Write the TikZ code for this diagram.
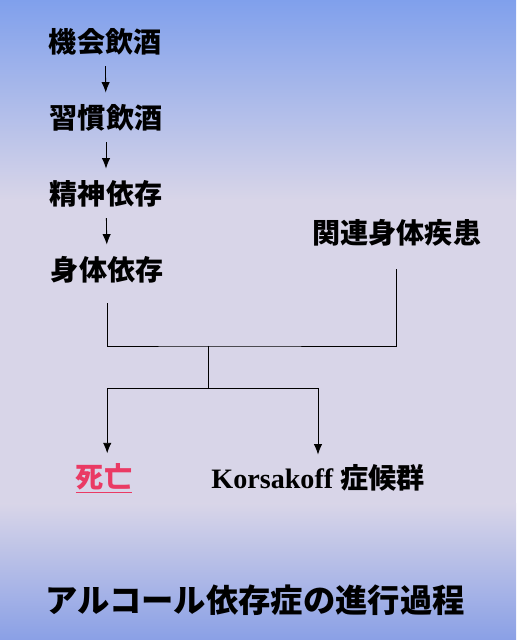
\documentclass[tikz,border=0pt]{standalone}
\usepackage{fontspec}
\setmainfont{Liberation Serif}
\newfontfamily\jp{Noto Sans CJK JP}
\usetikzlibrary{arrows.meta}
\definecolor{slidetop}{RGB}{128,160,236}
\definecolor{slidemid}{RGB}{216,213,232}
\definecolor{slidebot}{RGB}{138,160,230}
\definecolor{deathred}{RGB}{234,58,100}
\tikzset{%
    stage/.style={inner sep=0pt,outer sep=0pt,font=\jp\bfseries\fontsize{20}{24}\selectfont},
    flow/.style={->,>={Latex[length=2.6mm,width=2.1mm]},line width=0.6pt},
    branch/.style={line width=0.6pt},
}

\begin{document}
\begin{tikzpicture}
            \useasboundingbox (0,0) rectangle (12.9,16);
            %ozadje
            \shade[top color=slidetop, bottom color=slidemid] (0,11) rectangle (12.9,16);
            \fill[slidemid] (0,3.4) rectangle (12.9,11);
            \shade[top color=slidemid, bottom color=slidebot] (0,0) rectangle (12.9,3.4);

            %stopnje
            \node[stage] (occasional) at (2.63, 14.95) {機会飲酒};
            \node[stage] (habitual) at (2.65, 13.05) {習慣飲酒};
            \node[stage] (mental) at (2.65, 11.15) {精神依存};
            \node[stage] (physical) at (2.68, 9.25) {身体依存};
            \node[stage] (related) at (9.92, 10.18) {関連身体疾患};

            %izid
            \node[stage, text=deathred] (death) at (2.6, 4.05) {\underline{死亡}};
            \node[stage] (korsakoff) at (7.95, 4.05) {\rmfamily\bfseries Korsakoff \jp 症候群};
            \node[stage, font=\jp\bfseries\fontsize{23}{28}\selectfont] (title) at (6.38, 1.0) {アルコール依存症の進行過程};

            %puščice
            \draw[flow, shorten <=0.27cm, shorten >=0.3cm] (occasional) -- (habitual);
            \draw[flow, shorten <=0.27cm, shorten >=0.3cm] (habitual) -- (mental);
            \draw[flow, shorten <=0.27cm, shorten >=0.3cm] (mental) -- (physical);

            %veje
            \coordinate (join) at (5.2, 7.35);
            \coordinate (fork) at (5.2, 6.3);
            \draw[branch] ([yshift=-0.5cm]physical.south) |- (join) -| ([yshift=-0.58cm]related.south);
            \draw[branch] (join) -- (fork);
            \draw[flow, shorten >=0.25cm] (fork) -| ([xshift=0.08cm]death.north);
            \draw[flow, shorten >=0.25cm] (fork) -| (korsakoff.north);
        \end{tikzpicture}
\end{document}
